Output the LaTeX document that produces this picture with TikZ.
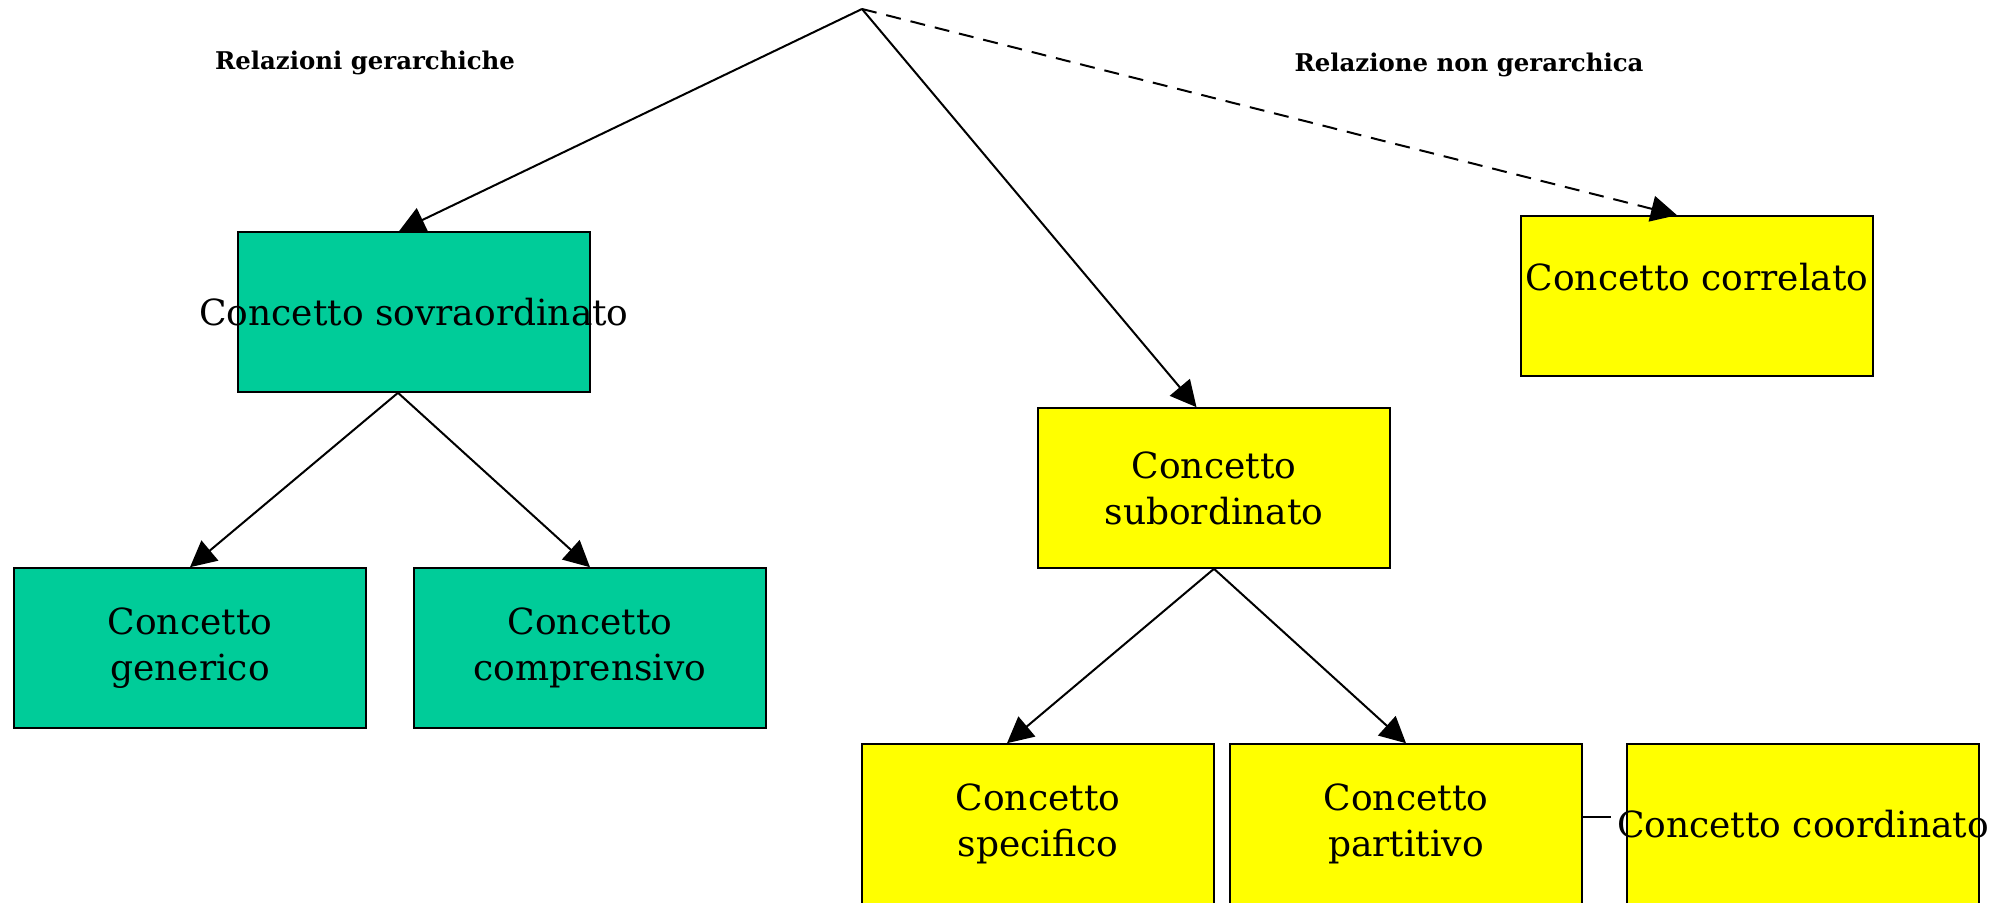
\documentclass[tikz,border=0pt]{standalone}
\usepackage{fontspec}
\setmainfont{DejaVu Serif}
\usepackage{xcolor}
\usetikzlibrary{positioning, arrows.meta}
\definecolor{sovragreen}{HTML}{00CC99}
\definecolor{subyellow}{HTML}{FFFF00}

\begin{document}
\begin{tikzpicture}[
            x=0.5pt, y=-0.5pt,
            concept font/.style={font=\fontsize{18}{23}\selectfont},
            concept/.style={draw, line width=0.8pt, minimum width=176pt, minimum height=80pt,
                inner sep=0pt, align=center, concept font},
            green concept/.style={concept, fill=sovragreen},
            yellow concept/.style={concept, fill=subyellow},
            rel/.style={line width=1pt, -{Triangle[length=13pt, width=13pt]}},
            heading/.style={font=\fontsize{12.2}{14}\selectfont\bfseries},
        ]
            \useasboundingbox (0,0) rectangle (1991,903);
            \coordinate (top) at (862,9);
            \node[heading] (gerarchiche) at (365,63) {Relazioni gerarchiche};
            \node[heading] (nongerarchica) at (1469,65) {Relazione non gerarchica};

            \node[green concept] (sovra) at (414,312) {\makebox[0pt]{Concetto sovraordinato}};
            \node[green concept] (generico) at (190,648) {Concetto\\ generico};
            \node[green concept] (comprensivo) at (590,648) {Concetto\\ comprensivo};
            \node[yellow concept] (sub) at (1214,488) {Concetto\\ subordinato};
            \node[yellow concept, label={[concept font, yshift=9.5pt]center:Concetto correlato}] (correlato) at (1697,296) {};
            \node[yellow concept] (specifico) at (1038,824) {Concetto\\ specifico};
            \node[yellow concept] (partitivo) at (1406,824) {Concetto\\ partitivo};
            \node[yellow concept] (coordinato) at (1803,824) {\makebox[0pt]{Concetto coordinato}};
            \coordinate (coordend) at (1611,817);

            \draw[rel] (top) -- ([xshift=-7.5pt]sovra.north);
            \draw[rel] (top) -- ([xshift=-8.75pt]sub.north);
            \draw[rel, dash pattern=on 7.5pt off 5pt] (top) -- ([xshift=-10pt]correlato.north);
            \draw[rel] ([xshift=-8pt]sovra.south) -- (generico.north);
            \draw[rel] ([xshift=-8pt]sovra.south) -- (comprensivo.north);
            \draw[rel] (sub.south) -- ([xshift=-15.5pt]specifico.north);
            \draw[rel] (sub.south) -- (partitivo.north);
            \draw[line width=1pt] (partitivo.east |- coordend) -- (coordend);
        \end{tikzpicture}
\end{document}
